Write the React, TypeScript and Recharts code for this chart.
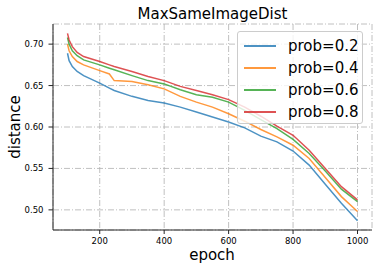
import { LineChart, Line, XAxis, YAxis, CartesianGrid } from "recharts";

const epochs = [100, 105, 115, 130, 150, 200, 230, 245, 300, 350, 400, 450, 500, 550, 600, 650, 700, 750, 800, 850, 900, 950, 1000];
const prob02 = [0.689, 0.68, 0.673, 0.667, 0.662, 0.653, 0.647, 0.644, 0.637, 0.632, 0.629, 0.624, 0.618, 0.612, 0.606, 0.599, 0.589, 0.582, 0.571, 0.554, 0.531, 0.508, 0.487];
const prob04 = [0.7, 0.692, 0.685, 0.679, 0.675, 0.668, 0.664, 0.656, 0.655, 0.651, 0.646, 0.637, 0.63, 0.624, 0.616, 0.607, 0.597, 0.588, 0.578, 0.562, 0.539, 0.516, 0.498];
const prob06 = [0.708, 0.7, 0.692, 0.686, 0.681, 0.675, 0.671, 0.669, 0.662, 0.656, 0.652, 0.645, 0.639, 0.636, 0.63, 0.62, 0.609, 0.598, 0.585, 0.568, 0.547, 0.525, 0.51];
const prob08 = [0.713, 0.705, 0.697, 0.69, 0.685, 0.679, 0.675, 0.673, 0.667, 0.661, 0.656, 0.649, 0.644, 0.639, 0.633, 0.624, 0.613, 0.601, 0.59, 0.572, 0.55, 0.528, 0.512];
const xTicks = [200, 400, 600, 800, 1000];
const yTicks = [0.5, 0.55, 0.6, 0.65, 0.7];

const series = [
  { key: "p2", name: "prob=0.2", color: "#1f77b4", values: prob02 },
  { key: "p4", name: "prob=0.4", color: "#ff7f0e", values: prob04 },
  { key: "p6", name: "prob=0.6", color: "#2ca02c", values: prob06 },
  { key: "p8", name: "prob=0.8", color: "#d62728", values: prob08 },
];

const data = epochs.map((epoch, i) => {
  const row: Record<string, number> = { epoch };
  series.forEach((s) => (row[s.key] = s.values[i]));
  return row;
});

const FONT = "DejaVu Sans, sans-serif";
const AXIS = "#262626";
const xDomain = [55, 1045];
const yDomain = [0.4757, 0.7243];

function LegendBox() {
  return (
    <div
      style={{
        position: "absolute",
        left: 237,
        top: 31,
        width: 124,
        height: 91,
        background: "rgba(255,255,255,0.8)",
        border: "1px solid #cccccc",
        borderRadius: 3,
        fontFamily: FONT,
        fontSize: 15,
        color: "#000",
      }}
    >
      {series.map((s, i) => (
        <div key={s.key} style={{ position: "absolute", left: 0, top: 3 + i * 22, height: 22, display: "flex", alignItems: "center", whiteSpace: "nowrap" }}>
          <span style={{ display: "inline-block", marginLeft: 6, width: 32, height: 2, background: s.color, opacity: 0.8 }} />
          <span style={{ marginLeft: 12, lineHeight: "22px" }}>{s.name}</span>
        </div>
      ))}
    </div>
  );
}

export default function App() {
  return (
    <div style={{ position: "absolute", left: 0, top: 0, width: 378, height: 272, background: "#fff" }}>
      <LineChart width={378} height={272} data={data} margin={{ top: 24, right: 6, bottom: 0, left: 0 }}>
        <CartesianGrid stroke="#b0b0b0" strokeDasharray="6 2 1 2" strokeWidth={0.8} />
        <XAxis
          dataKey="epoch"
          type="number"
          domain={xDomain}
          ticks={xTicks}
          height={42}
          stroke={AXIS}
          tickSize={4}
          tickMargin={3.5}
          tick={{ fontSize: 8.5, fill: "#000", fontFamily: FONT }}
          allowDataOverflow
        />
        <YAxis
          type="number"
          domain={yDomain}
          ticks={yTicks}
          width={53}
          stroke={AXIS}
          tickSize={4.5}
          tickMargin={5}
          tickFormatter={(v: number) => v.toFixed(2)}
          tick={{ fontSize: 8.5, fill: "#000", fontFamily: FONT }}
          allowDataOverflow
        />
        <XAxis xAxisId="top" orientation="top" type="number" domain={xDomain} height={0} tick={false} tickLine={false} stroke={AXIS} allowDataOverflow />
        <YAxis yAxisId="right" orientation="right" type="number" domain={yDomain} width={0} tick={false} tickLine={false} stroke={AXIS} allowDataOverflow />
        {series.map((s) => (
          <Line
            key={s.key}
            type="linear"
            dataKey={s.key}
            name={s.name}
            stroke={s.color}
            strokeOpacity={0.8}
            strokeWidth={1.5}
            dot={false}
            isAnimationActive={false}
          />
        ))}
      </LineChart>
      <LegendBox />
      <svg width={378} height={272} style={{ position: "absolute", left: 0, top: 0, pointerEvents: "none" }}>
        <text x={212.5} y={19.3} textAnchor="middle" fontFamily={FONT} fontSize={15} fill="#000">
          MaxSameImageDist
        </text>
        <text x={212} y={260} textAnchor="middle" fontFamily={FONT} fontSize={15} fill="#000">
          epoch
        </text>
        <text x={19.5} y={127} textAnchor="middle" fontFamily={FONT} fontSize={15} fill="#000" transform="rotate(-90 19.5 127)">
          distance
        </text>
      </svg>
    </div>
  );
}
